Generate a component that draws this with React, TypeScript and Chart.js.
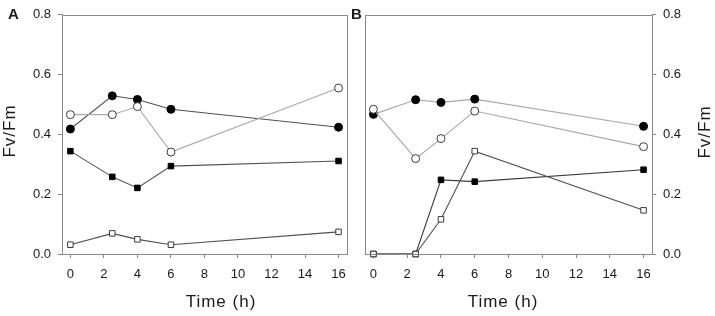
import React, { useEffect, useRef } from 'react';
import { Chart, registerables } from 'chart.js';

Chart.register(...registerables);

const times = [0, 2.5, 4, 6, 16];
const xTicks = [0, 2, 4, 6, 8, 10, 12, 14, 16];
const yTicks = [0, 0.2, 0.4, 0.6, 0.8];

const aFilledCircles = [0.418, 0.529, 0.517, 0.484, 0.424];
const aOpenCircles = [0.466, 0.466, 0.493, 0.341, 0.555];
const aFilledSquares = [0.344, 0.258, 0.221, 0.294, 0.311];
const aOpenSquares = [0.031, 0.069, 0.049, 0.031, 0.074];

const bFilledCircles = [0.467, 0.516, 0.507, 0.518, 0.427];
const bOpenCircles = [0.484, 0.319, 0.386, 0.478, 0.359];
const bFilledSquares = [0, 0, 0.248, 0.242, 0.282];
const bOpenSquares = [0, 0, 0.116, 0.344, 0.146];

const FONT = "Arial, 'Liberation Sans', sans-serif";
const AXIS = '#8a8a8a';
const TEXT = '#1a1a1a';
const DARK_LINE = '#505050';
const LIGHT_LINE = '#a8a8a8';

const pts = (vals: number[]) => vals.map((v, i) => ({ x: times[i], y: v }));

function ds(vals: number[], style: 'circle' | 'rect', filled: boolean, line: string) {
  return {
    data: pts(vals),
    borderColor: line,
    borderWidth: 1.1,
    pointStyle: style,
    pointRadius: style === 'circle' ? 4 : 3.9,
    pointBackgroundColor: filled ? '#000' : '#fff',
    pointBorderColor: filled ? '#000' : '#3a3a3a',
    pointBorderWidth: 1,
    fill: false,
    tension: 0,
    clip: false as any,
  };
}

type TextItem = { text: string; x: number; y: number; rot?: number; font: string; spacing?: string; align?: string };

const framePlugin = {
  id: 'frame',
  afterDraw(chart: any) {
    const { ctx, chartArea } = chart;
    const l = Math.round(chartArea.left) + 0.5;
    const t = Math.round(chartArea.top) + 0.5;
    const r = Math.round(chartArea.right) + 0.5;
    const b = Math.round(chartArea.bottom) + 0.5;
    ctx.save();
    ctx.strokeStyle = AXIS;
    ctx.lineWidth = 1;
    ctx.strokeRect(l, t, r - l, b - t);
    ctx.restore();
    const items: TextItem[] = chart.options.plugins.texts?.items || [];
    ctx.save();
    ctx.fillStyle = TEXT;
    for (const it of items) {
      ctx.save();
      ctx.font = it.font;
      (ctx as any).letterSpacing = it.spacing || '0px';
      ctx.textAlign = (it.align as any) || 'center';
      ctx.textBaseline = 'middle';
      ctx.translate(it.x, it.y);
      if (it.rot) ctx.rotate(it.rot);
      ctx.fillText(it.text, 0, 0);
      ctx.restore();
    }
    ctx.restore();
  },
};

function makeConfig(panel: 'A' | 'B'): any {
  const isA = panel === 'A';
  const datasets = isA
    ? [
        ds(aOpenSquares, 'rect', false, DARK_LINE),
        ds(aFilledSquares, 'rect', true, DARK_LINE),
        ds(aOpenCircles, 'circle', false, LIGHT_LINE),
        ds(aFilledCircles, 'circle', true, DARK_LINE),
      ]
    : [
        ds(bOpenSquares, 'rect', false, DARK_LINE),
        ds(bFilledSquares, 'rect', true, '#3a3a3a'),
        ds(bOpenCircles, 'circle', false, LIGHT_LINE),
        ds(bFilledCircles, 'circle', true, LIGHT_LINE),
      ];
  const titleFont = `17px ${FONT}`;
  const items: TextItem[] = isA
    ? [
        { text: 'A', x: 8, y: 15, font: `bold 15px ${FONT}`, align: 'left' },
        { text: 'Fv/Fm', x: 10, y: 131, rot: -Math.PI / 2, font: titleFont, spacing: '1px' },
        { text: 'Time (h)', x: 221, y: 302, font: titleFont, spacing: '1px' },
      ]
    : [
        { text: 'B', x: 6, y: 15, font: `bold 15px ${FONT}`, align: 'left' },
        { text: 'Fv/Fm', x: 360, y: 132, rot: -Math.PI / 2, font: titleFont, spacing: '1px' },
        { text: 'Time (h)', x: 158, y: 302, font: titleFont, spacing: '1px' },
      ];
  return {
    type: 'line',
    data: { datasets },
    options: {
      animation: false,
      responsive: false,
      maintainAspectRatio: false,
      events: [],
      layout: {
        padding: isA
          ? { left: 0, top: 8, right: 8, bottom: 0 }
          : { left: 20, top: 8, right: 0, bottom: 0 },
      },
      plugins: {
        legend: { display: false },
        tooltip: { enabled: false },
        texts: { items },
      },
      scales: {
        x: {
          type: 'linear',
          min: -0.5,
          max: 16.5,
          afterBuildTicks: (s: any) => {
            s.ticks = xTicks.map((v) => ({ value: v }));
          },
          afterFit: (s: any) => {
            s.height = 62;
          },
          ticks: {
            font: { family: FONT, size: 13 },
            color: TEXT,
            padding: 9,
            maxRotation: 0,
            autoSkip: false,
            callback: (v: any) => String(v),
          },
          grid: { display: true, drawOnChartArea: false, drawTicks: true, tickLength: 4, color: AXIS },
          border: { display: true, color: AXIS, width: 1 },
        },
        y: {
          type: 'linear',
          position: isA ? 'left' : 'right',
          min: 0,
          max: 0.8,
          afterBuildTicks: (s: any) => {
            s.ticks = yTicks.map((v) => ({ value: v }));
          },
          afterFit: (s: any) => {
            s.width = isA ? 62 : 63;
          },
          ticks: {
            font: { family: FONT, size: 13 },
            color: TEXT,
            padding: 7,
            autoSkip: false,
            callback: (v: any) => Number(v).toFixed(1),
          },
          grid: { display: true, drawOnChartArea: false, drawTicks: true, tickLength: 4, color: AXIS },
          border: { display: true, color: AXIS, width: 1 },
        },
      },
    },
    plugins: [framePlugin],
  };
}

function Panel({ panel, left, width }: { panel: 'A' | 'B'; left: number; width: number }) {
  const ref = useRef<HTMLCanvasElement | null>(null);
  useEffect(() => {
    if (!ref.current) return;
    const chart = new Chart(ref.current, makeConfig(panel));
    return () => chart.destroy();
  }, [panel]);
  return (
    <canvas
      ref={ref}
      width={width}
      height={316}
      style={{ position: 'absolute', left, top: 0, width, height: 316, display: 'block' }}
    />
  );
}

export default function App() {
  return (
    <div style={{ position: 'absolute', left: 0, top: 0, width: 715, height: 316, background: '#fff' }}>
      <Panel panel="A" left={0} width={355} />
      <Panel panel="B" left={345} width={370} />
    </div>
  );
}
